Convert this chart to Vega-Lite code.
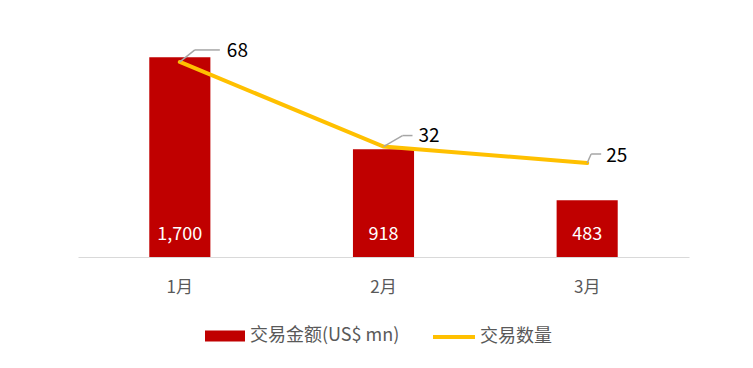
{
  "$schema": "https://vega.github.io/schema/vega-lite/v6.json",
  "width": 611,
  "height": 235,
  "autosize": {"type": "none"},
  "padding": {"left": 78, "top": 22, "right": 64, "bottom": 111},
  "background": "white",
  "config": {
    "view": {"stroke": null},
    "font": "Noto Sans CJK SC",
    "legend": {"title": null, "padding": 0, "labelFont": "Noto Sans CJK SC", "labelFontSize": 18, "labelColor": "#595959", "labelOffset": 5}
  },
  "data": {
    "values": [
      {"month": "1月", "amount": 1700, "count": 68},
      {"month": "2月", "amount": 918, "count": 32},
      {"month": "3月", "amount": 483, "count": 25}
    ]
  },
  "encoding": {
    "x": {
      "field": "month", "type": "nominal", "sort": null,
      "scale": {"paddingInner": 0.7, "paddingOuter": 0.35},
      "axis": {"title": null, "ticks": false, "labelAngle": 0, "domainColor": "#D9D9D9", "domainWidth": 1, "labelColor": "#595959", "labelFontSize": 17, "labelPadding": 22, "labelFont": "Noto Sans CJK SC"}
    }
  },
  "layer": [
    {
      "encoding": {
        "y": {"field": "amount", "type": "quantitative", "scale": {"domain": [0, 2000]}, "axis": null}
      },
      "layer": [
        {
          "mark": {"type": "bar"},
          "encoding": {
            "color": {"datum": "交易金额(US$ mn)", "type": "nominal", "scale": {"range": ["#C00000"]},
              "legend": {"orient": "none", "legendX": 127, "legendY": 294, "symbolType": "M-1,-0.275L1,-0.275L1,0.275L-1,0.275Z", "symbolSize": 1600, "symbolStrokeWidth": 0}}
          }
        },
        {
          "mark": {"type": "text", "color": "white", "fontSize": 18, "baseline": "middle", "yOffset": -22},
          "encoding": {
            "y": {"datum": 0},
            "text": {"field": "amount", "type": "quantitative", "format": ","}
          }
        }
      ]
    },
    {
      "encoding": {
        "y": {"field": "count", "type": "quantitative", "scale": {"domain": [-15, 85]}, "axis": null}
      },
      "layer": [
        {
          "mark": {"type": "line", "strokeWidth": 4, "strokeCap": "round"},
          "encoding": {
            "stroke": {"datum": "交易数量", "type": "nominal", "scale": {"range": ["#FFC000"]},
              "legend": {"orient": "none", "legendX": 353, "legendY": 292, "symbolType": "M-1,0L1,0", "symbolSize": 1764, "symbolStrokeWidth": 4, "labelOffset": 3}}
          }
        },
        {
          "transform": [{"filter": "datum.month === '1月'"}],
          "layer": [
            {"mark": {"type": "rule", "color": "#A6A6A6", "strokeWidth": 1.5, "x2Offset": 15, "y2Offset": -12},
             "encoding": {"x2": {"field": "month"}, "y2": {"field": "count"}}},
            {"mark": {"type": "rule", "color": "#A6A6A6", "strokeWidth": 1.5, "xOffset": 15, "yOffset": -12, "x2Offset": 40, "y2Offset": -12},
             "encoding": {"x2": {"field": "month"}, "y2": {"field": "count"}}},
            {"mark": {"type": "text", "fontSize": 19, "color": "black", "align": "left", "baseline": "middle", "dx": 47, "dy": -11},
             "encoding": {"text": {"field": "count", "type": "quantitative"}}}
          ]
        },
        {
          "transform": [{"filter": "datum.month === '2月'"}],
          "layer": [
            {"mark": {"type": "rule", "color": "#A6A6A6", "strokeWidth": 1.5, "x2Offset": 19, "y2Offset": -11},
             "encoding": {"x2": {"field": "month"}, "y2": {"field": "count"}}},
            {"mark": {"type": "rule", "color": "#A6A6A6", "strokeWidth": 1.5, "xOffset": 19, "yOffset": -11, "x2Offset": 29, "y2Offset": -11},
             "encoding": {"x2": {"field": "month"}, "y2": {"field": "count"}}},
            {"mark": {"type": "text", "fontSize": 19, "color": "black", "align": "left", "baseline": "middle", "dx": 35, "dy": -11},
             "encoding": {"text": {"field": "count", "type": "quantitative"}}}
          ]
        },
        {
          "transform": [{"filter": "datum.month === '3月'"}],
          "layer": [
            {"mark": {"type": "rule", "color": "#A6A6A6", "strokeWidth": 1.5, "x2Offset": 4, "y2Offset": -9},
             "encoding": {"x2": {"field": "month"}, "y2": {"field": "count"}}},
            {"mark": {"type": "rule", "color": "#A6A6A6", "strokeWidth": 1.5, "xOffset": 4, "yOffset": -9, "x2Offset": 14, "y2Offset": -9},
             "encoding": {"x2": {"field": "month"}, "y2": {"field": "count"}}},
            {"mark": {"type": "text", "fontSize": 19, "color": "black", "align": "left", "baseline": "middle", "dx": 19, "dy": -7},
             "encoding": {"text": {"field": "count", "type": "quantitative"}}}
          ]
        }
      ]
    }
  ],
  "resolve": {"scale": {"y": "independent"}}
}
